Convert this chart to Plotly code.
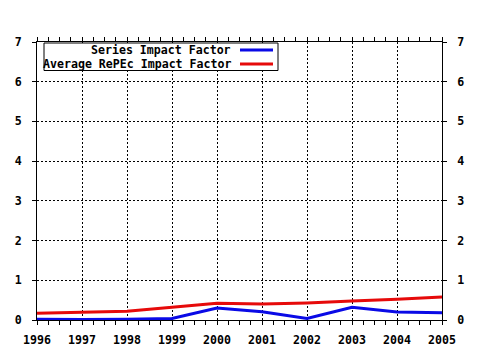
import plotly.graph_objects as go

# Yearly impact factors
years = [1996, 1997, 1998, 1999, 2000, 2001, 2002, 2003, 2004, 2005]
series_if = [0.02, 0.01, 0.02, 0.04, 0.30, 0.21, 0.04, 0.32, 0.20, 0.18]
average_repec_if = [0.17, 0.19, 0.22, 0.32, 0.42, 0.40, 0.43, 0.48, 0.52, 0.58]
series_names = ["Series Impact Factor", "Average RePEc Impact Factor"]
series_colors = ["#0a0ae6", "#e60a0a"]
y_ticks = [0, 1, 2, 3, 4, 5, 6, 7]

W, H = 480, 350
ML, MR, MT, MB = 37, 38, 42, 30
PW, PH = W - ML - MR, H - MT - MB

FONT = dict(family="DejaVu Sans Mono", size=11.6, color="black", weight="bold")


def px_x(p):
    return (p - ML) / PW


def px_y(p):
    return (H - MB - p) / PH


fig = go.Figure()
for name, vals, col in zip(series_names, [series_if, average_repec_if], series_colors):
    fig.add_trace(go.Scatter(x=years, y=vals, mode="lines", name=name,
                             line=dict(color=col, width=3), showlegend=False))

# invisible trace bound to the right-hand axis so its ticks are drawn
fig.add_trace(go.Scatter(x=[years[0]], y=[0], yaxis="y2", mode="markers",
                         marker=dict(opacity=0), showlegend=False, hoverinfo="skip"))

axis_common = dict(showline=True, linecolor="black", linewidth=1,
                   ticks="outside", tickcolor="black", ticklen=4,
                   tickfont=FONT, zeroline=False, automargin=False)

fig.update_layout(
    width=W, height=H,
    margin=dict(l=ML, r=MR, t=MT, b=MB),
    paper_bgcolor="white", plot_bgcolor="white",
    font=FONT,
    xaxis=dict(range=[years[0], years[-1]], tickvals=years, ticktext=[str(y) for y in years],
               showgrid=True, gridcolor="black", griddash="2px,2px", gridwidth=1,
               mirror="allticks", ticklabelstandoff=5,
               minor=dict(dtick=0.25, ticks="outside", ticklen=3, tickcolor="black", showgrid=False),
               **axis_common),
    yaxis=dict(range=[0, 7], tickvals=y_ticks, ticklabelstandoff=8,
               showgrid=True, gridcolor="black", griddash="2px,2px", gridwidth=1,
               **axis_common),
    yaxis2=dict(range=[0, 7], tickvals=y_ticks, overlaying="y", side="right",
                ticklabelstandoff=8, showgrid=False, **axis_common),
)

# Legend box with right-aligned labels and line samples on the right
box = dict(x0=px_x(44), x1=px_x(278), y0=px_y(70.5), y1=px_y(43))
fig.add_shape(type="rect", xref="paper", yref="paper", **box,
              line=dict(color="black", width=1), fillcolor="white", layer="above")
for i, (name, col) in enumerate(zip(series_names, series_colors)):
    yc = px_y(50 + 14 * i)
    fig.add_annotation(x=px_x(233), y=yc, xref="paper", yref="paper", text=name,
                       showarrow=False, xanchor="right", yanchor="middle", font=FONT)
    fig.add_shape(type="line", xref="paper", yref="paper",
                  x0=px_x(240), x1=px_x(273), y0=yc, y1=yc,
                  line=dict(color=col, width=3), layer="above")

fig.write_html("out.html")
